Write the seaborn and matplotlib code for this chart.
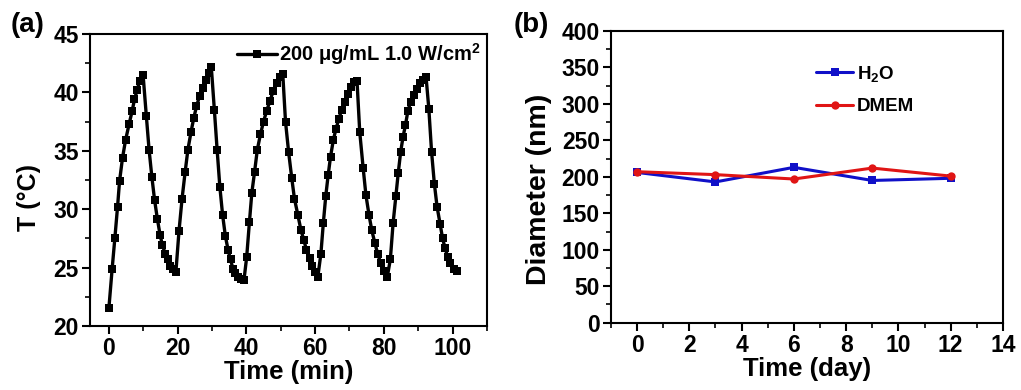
import numpy as np
import pandas as pd
import matplotlib
matplotlib.use("Agg")
import matplotlib.pyplot as plt
from matplotlib.ticker import MultipleLocator
import seaborn as sns

# ---------------- data: panel (a) photothermal cycles ----------------
time_min = [
    0.0, 0.96, 1.74, 2.53, 3.11, 3.98, 4.85, 5.9, 6.77, 7.46, 8.22, 9.0, 9.96,
    10.9, 11.7, 12.5, 13.3, 14.1, 14.9, 15.6, 16.4, 17.15, 17.9, 18.7, 19.5,
    20.4, 21.3, 22.2, 23.0, 23.9, 24.7, 25.5, 26.4, 27.3, 28.2, 29.1, 29.8,
    30.7, 31.5, 32.3, 33.1, 33.9, 34.7, 35.4, 36.1, 36.8, 37.6, 38.5, 39.3,
    40.1, 40.9, 41.6, 42.4, 43.2, 44.1, 45.0, 45.9, 46.9, 47.8, 48.8, 49.7, 50.6,
    51.4, 52.3, 53.2, 54.0, 55.0, 55.9, 56.7, 57.5, 58.4, 59.2, 60.0, 60.8,
    61.7, 62.4, 63.1, 63.8, 64.5, 65.3, 66.1, 66.9, 67.7, 68.6, 69.5, 70.4, 71.3, 72.2,
    73.0, 74.0, 74.8, 75.7, 76.5, 77.4, 78.2, 79.1, 80.1, 81.0,
    81.9, 82.7, 83.5, 84.2, 84.9, 85.6, 86.3, 87.0, 87.8, 88.7, 89.6, 90.5, 91.4, 92.3,
    93.1, 93.9, 94.7, 95.5, 96.4, 97.1, 97.8, 98.6, 99.4, 100.3, 101.3,
]
temp_c = [
    21.5, 24.9, 27.5, 30.2, 32.4, 34.4, 35.9, 37.3, 38.4, 39.4, 40.2, 41.0, 41.5,
    38.0, 35.1, 32.8, 30.8, 29.2, 27.8, 26.9, 26.2, 25.7, 25.1, 24.9, 24.6,
    28.1, 30.9, 33.2, 35.1, 36.6, 37.8, 38.8, 39.7, 40.4, 41.1, 41.7, 42.2,
    38.5, 35.1, 31.9, 29.5, 27.7, 26.5, 25.7, 24.9, 24.5, 24.2, 24.0, 23.9,
    25.9, 28.9, 31.4, 33.2, 35.1, 36.4, 37.5, 38.4, 39.3, 40.1, 40.8, 41.3, 41.6,
    37.5, 34.9, 32.7, 30.9, 29.5, 28.2, 27.4, 26.5, 25.8, 25.1, 24.6, 24.2,
    26.2, 28.8, 31.1, 32.9, 34.5, 35.9, 36.9, 37.7, 38.5, 39.2, 39.9, 40.5, 40.9, 41.0,
    36.6, 33.5, 31.2, 29.5, 28.2, 27.1, 26.2, 25.4, 24.7, 24.2,
    25.7, 28.8, 31.1, 33.1, 34.9, 36.2, 37.2, 38.4, 39.2, 39.8, 40.3, 40.8, 41.1, 41.3,
    38.6, 34.9, 32.2, 30.2, 28.7, 27.5, 26.7, 25.9, 25.4, 24.9, 24.7,
]
legend_a = "200 μg/mL 1.0 W/cm$^{2}$"

# ---------------- data: panel (b) size stability ----------------
days = [0, 3, 6, 9, 12]
diam_h2o = [206, 193, 213, 195, 198]
diam_dmem = [207, 203, 197, 212, 201]
label_h2o = "H$_{2}$O"
label_dmem = "DMEM"

# ---------------- style ----------------
sns.set_style("ticks")
plt.rcParams["font.family"] = ["Liberation Sans", "DejaVu Sans"]
plt.rcParams["font.weight"] = "bold"
plt.rcParams["axes.labelweight"] = "bold"
plt.rcParams["text.color"] = "black"
plt.rcParams["axes.labelcolor"] = "black"
plt.rcParams["xtick.color"] = "black"
plt.rcParams["ytick.color"] = "black"
plt.rcParams["axes.edgecolor"] = "black"
plt.rcParams["mathtext.fontset"] = "custom"
plt.rcParams["mathtext.rm"] = "Liberation Sans:bold"
plt.rcParams["mathtext.it"] = "Liberation Sans:bold"
plt.rcParams["mathtext.bf"] = "Liberation Sans:bold"

fig = plt.figure(figsize=(10.21, 3.90), dpi=100)
ax1 = fig.add_axes([0.0881, 0.1641, 0.3888, 0.7487])
ax2 = fig.add_axes([0.5984, 0.1726, 0.3839, 0.7480])

df_a = pd.DataFrame({"t": time_min, "T": temp_c})
sns.lineplot(data=df_a, x="t", y="T", ax=ax1, color="black", marker="s",
             markersize=5.2, markeredgewidth=0, linewidth=2.4, label=legend_a)

df_b = pd.DataFrame({"day": days, "h2o": diam_h2o, "dmem": diam_dmem})
sns.lineplot(data=df_b, x="day", y="h2o", ax=ax2, color="#1010C8", marker="s",
             markersize=6, markeredgewidth=0, linewidth=2.2, label=label_h2o)
sns.lineplot(data=df_b, x="day", y="dmem", ax=ax2, color="#E01515", marker="o",
             markersize=6, markeredgewidth=0, linewidth=2.2, label=label_dmem)

tick_fs = 16.5
label_fs = 18.5

for ax in (ax1, ax2):
    for s in ax.spines.values():
        s.set_linewidth(1.5)
        s.set_color("black")
    ax.tick_params(which="major", direction="out", length=6, width=1.5,
                   labelsize=tick_fs, pad=2, top=False, right=False,
                   colors="black")
    ax.tick_params(which="minor", direction="out", length=3.5, width=1.2,
                   top=False, right=False, colors="black")

# panel (a)
ax1.set_xlim(-5.5, 110)
ax1.set_ylim(20, 45)
ax1.xaxis.set_major_locator(MultipleLocator(20))
ax1.xaxis.set_minor_locator(MultipleLocator(10))
ax1.yaxis.set_major_locator(MultipleLocator(5))
ax1.yaxis.set_minor_locator(MultipleLocator(2.5))
ax1.set_xlabel("Time (min)", fontsize=label_fs, fontweight="bold", labelpad=0)
ax1.set_ylabel("T (°C)", fontsize=18, fontweight="bold")
ax1.yaxis.set_label_coords(-0.123, 0.44)
ax1.legend(loc="upper right", bbox_to_anchor=(1.003, 1.0), frameon=False,
           handlelength=2.0, handletextpad=0.1, borderaxespad=0.15,
           borderpad=0.2, prop={"weight": "bold", "size": 14.5})

# panel (b)
ax2.set_xlim(-1, 14)
ax2.set_ylim(0, 400)
ax2.xaxis.set_major_locator(MultipleLocator(2))
ax2.xaxis.set_minor_locator(MultipleLocator(1))
ax2.yaxis.set_major_locator(MultipleLocator(50))
ax2.yaxis.set_minor_locator(MultipleLocator(25))
ax2.set_xlabel("Time (day)", fontsize=label_fs, fontweight="bold", labelpad=0)
ax2.set_ylabel("Diameter (nm)", fontsize=20.5, fontweight="bold")
ax2.yaxis.set_label_coords(-0.150, 0.457)
ax2.legend(loc="upper left", bbox_to_anchor=(0.48, 0.945), frameon=False,
           handlelength=2.0, handletextpad=0.2, labelspacing=0.75,
           prop={"weight": "bold", "size": 13.5})

for ax in (ax1, ax2):
    for lab in ax.get_xticklabels() + ax.get_yticklabels():
        lab.set_fontweight("bold")
        lab.set_color("black")

fig.text(0.010, 0.935, "(a)", fontsize=20, fontweight="bold", ha="left", va="center")
fig.text(0.503, 0.935, "(b)", fontsize=20, fontweight="bold", ha="left", va="center")

fig.savefig("out.png", dpi=100)
